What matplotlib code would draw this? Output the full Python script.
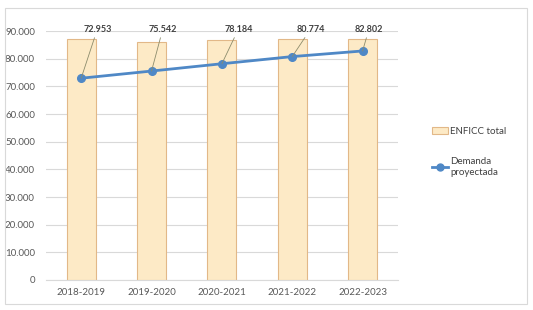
import matplotlib.pyplot as plt
from matplotlib.patches import Patch, Rectangle
from matplotlib.lines import Line2D

# data
periods = ['2018-2019', '2019-2020', '2020-2021', '2021-2022', '2022-2023']
enficc_total = [87000, 86000, 86700, 87000, 87000]
demanda = [72953, 75542, 78184, 80774, 82802]
label_shift = [0.23, 0.16, 0.235, 0.26, 0.09]

plt.rcParams['font.family'] = ['Lato', 'DejaVu Sans']

fig = plt.figure(figsize=(5.33, 3.10), dpi=100)
ax = fig.add_axes([0.0863, 0.0968, 0.660, 0.803])

x = range(len(periods))
ax.bar(x, enficc_total, width=0.41, color='#fdeac6', edgecolor='#e2b888', linewidth=0.8, zorder=2)
ax.plot(x, demanda, color='#4f88c6', linewidth=2, marker='o', markersize=5.5, zorder=3)

# data labels with leader lines
for i, v in enumerate(demanda):
    txt = '{:,}'.format(v).replace(',', '.')
    ax.annotate(txt, xy=(i, v), xytext=(i + label_shift[i], 90700),
                ha='center', va='center', fontsize=6.5, fontweight='bold', color='#404040',
                arrowprops=dict(arrowstyle='-', color='#8c8c6c', linewidth=0.6, shrinkA=1, shrinkB=0),
                annotation_clip=False, zorder=4)

ax.set_xlim(-0.5, 4.5)
ax.set_ylim(0, 90000)
ax.set_yticks(range(0, 90001, 10000))
ax.set_yticklabels(['{:,}'.format(t).replace(',', '.') for t in range(0, 90001, 10000)])
ax.set_xticks(list(x))
ax.set_xticklabels(periods)
ax.tick_params(axis='both', length=0, labelsize=7, colors='#595959')
ax.tick_params(axis='y', pad=8)
ax.tick_params(axis='x', pad=6)
ax.grid(axis='y', color='#d9d9d9', linewidth=0.8, zorder=0)
ax.set_axisbelow(True)
for s in ['top', 'right', 'left']:
    ax.spines[s].set_visible(False)
ax.spines['bottom'].set_color('#d9d9d9')

handles = [Patch(facecolor='#fdeac6', edgecolor='#e2b888', linewidth=0.8),
           Line2D([], [], color='#4f88c6', linewidth=2, marker='o', markersize=5)]
fig.legend(handles, ['ENFICC total', 'Demanda\nproyectada'], loc='center left',
           bbox_to_anchor=(0.795, 0.51), frameon=False, fontsize=7, labelcolor='#404040',
           labelspacing=2.2, handlelength=1.6, handletextpad=0.2)

# outer chart border
fig.patches.append(Rectangle((5 / 533, 6 / 310), 522 / 533, 296 / 310, transform=fig.transFigure,
                             fill=False, edgecolor='#d9d9d9', linewidth=0.8))

fig.savefig('out.png', dpi=100)
